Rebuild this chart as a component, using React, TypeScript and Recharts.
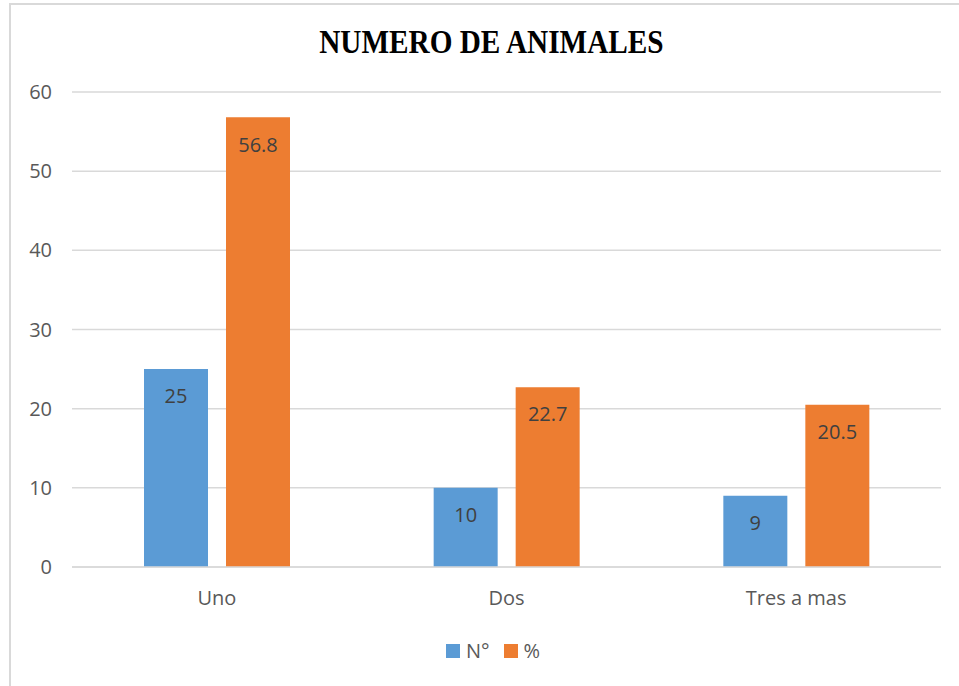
import React from "react";
import { BarChart, Bar, XAxis, YAxis, CartesianGrid, LabelList } from "recharts";

const categories = ["Uno", "Dos", "Tres a mas"];
const countValues = [25, 10, 9];
const percentValues = [56.8, 22.7, 20.5];
const yTicks = [0, 10, 20, 30, 40, 50, 60];
const seriesNames = ["N°", "%"];

const data = categories.map((c, i) => ({ name: c, n: countValues[i], p: percentValues[i] }));

const BLUE = "#5B9BD5";
const ORANGE = "#ED7D31";
const TEXT = "#595959";
const FONT = "'Open Sans', sans-serif";

export default function App() {
  return (
    <div style={{ position: "absolute", left: 0, top: 0, width: 959, height: 686, overflow: "hidden", background: "#fff" }}>
      <div style={{ position: "absolute", left: 9, top: 3, width: 1000, height: 800, border: "2px solid #d9d9d9", boxSizing: "border-box" }} />
      <div style={{ position: "absolute", left: 10, width: 960, top: 20, textAlign: "center", fontFamily: "'Liberation Serif', 'Times New Roman', serif", fontWeight: "bold", fontSize: 34, lineHeight: "44px", color: "#000", transform: "scaleX(0.86)", transformOrigin: "490px 0" }}>
        NUMERO DE ANIMALES
      </div>
      <div style={{ position: "absolute", left: 0, top: 0 }}>
        <BarChart width={959} height={686} data={data} margin={{ top: 92, right: 18, left: 22, bottom: 79 }} barGap={18} barSize={64}>
          <CartesianGrid horizontal vertical={false} stroke="#d9d9d9" strokeWidth={1.5} />
          <XAxis dataKey="name" height={40} axisLine={{ stroke: "#d9d9d9", strokeWidth: 1.5 }} tickLine={false} tick={{ fill: TEXT, fontSize: 20, fontFamily: FONT }} tickMargin={18} />
          <YAxis width={50} domain={[0, 60]} ticks={yTicks} axisLine={false} tickLine={false} tick={{ fill: TEXT, fontSize: 20, fontFamily: FONT }} tickMargin={14} />
          <Bar dataKey="n" name={seriesNames[0]} fill={BLUE} isAnimationActive={false}>
            <LabelList dataKey="n" position="insideTop" offset={20} fill="#404040" fontSize={20} fontFamily={FONT} />
          </Bar>
          <Bar dataKey="p" name={seriesNames[1]} fill={ORANGE} isAnimationActive={false}>
            <LabelList dataKey="p" position="insideTop" offset={20} fill="#404040" fontSize={20} fontFamily={FONT} />
          </Bar>
        </BarChart>
      </div>
      <div style={{ position: "absolute", left: 0, width: 986, top: 637, display: "flex", justifyContent: "center", gap: 14, fontFamily: FONT, fontSize: 20, color: TEXT }}>
        {seriesNames.map((s, i) => (
          <div key={s} style={{ display: "flex", alignItems: "center", gap: 6 }}>
            <span style={{ width: 14, height: 14, background: i === 0 ? BLUE : ORANGE, display: "inline-block" }} />
            <span>{s}</span>
          </div>
        ))}
      </div>
    </div>
  );
}
